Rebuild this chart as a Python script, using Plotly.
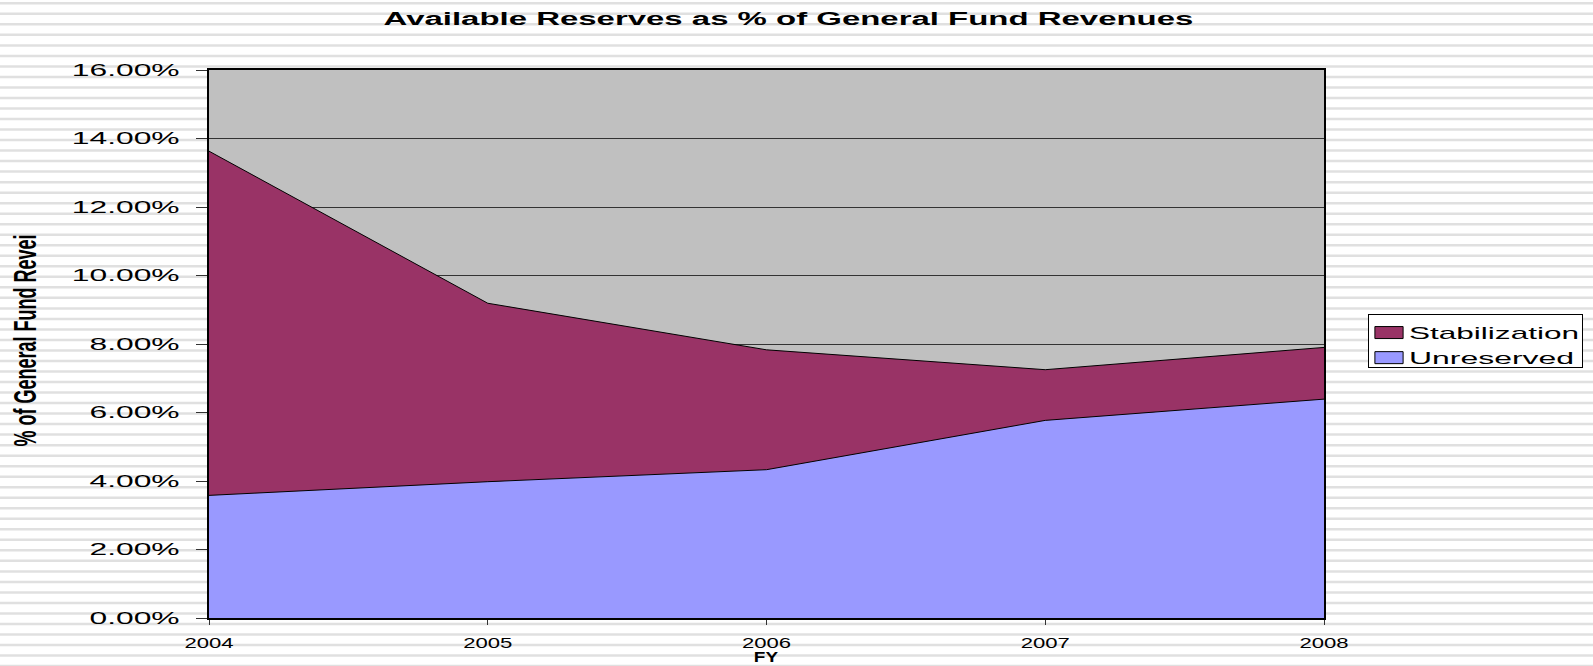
import plotly.graph_objects as go

# ---- data ----
years = [2004, 2005, 2006, 2007, 2008]
unreserved = [0.0358, 0.0398, 0.0433, 0.0577, 0.0639]
stabilization = [0.1005, 0.0521, 0.0350, 0.0148, 0.0151]
y_ticks = [0, 0.02, 0.04, 0.06, 0.08, 0.10, 0.12, 0.14, 0.16]
series_names = ["Stabilization", "Unreserved"]
series_colors = {"Stabilization": "#993366", "Unreserved": "#9999FF"}

W, H = 1593, 666
L, R, T, B = 209, 269, 70, 48
PW, PH = W - L - R, H - T - B
FONT = "Liberation Sans, Arial, sans-serif"


def px_to_paper_x(px):
    return (px - L) / PW


def px_to_paper_y(py):
    return (H - B - py) / PH


fig = go.Figure()
fig.add_trace(go.Scatter(
    x=years, y=unreserved, name="Unreserved", stackgroup="one",
    mode="lines", line=dict(color="#000000", width=1),
    fillcolor=series_colors["Unreserved"], showlegend=False,
))
fig.add_trace(go.Scatter(
    x=years, y=stabilization, name="Stabilization", stackgroup="one",
    mode="lines", line=dict(color="#000000", width=1),
    fillcolor=series_colors["Stabilization"], showlegend=False,
))
# legend swatches
for nm in series_names:
    fig.add_trace(go.Scatter(
        x=[None], y=[None], name=nm, mode="markers",
        marker=dict(symbol="square", size=12, color=series_colors[nm],
                    line=dict(color="#000000", width=1)),
        showlegend=True, hoverinfo="skip",
    ))

# striped background decoration
shapes = []
period = 10.52
start = 3.3
k = 0
while start + k * period < H + 5:
    py = start + k * period
    shapes.append(dict(
        type="line", xref="paper", yref="paper", layer="below",
        x0=px_to_paper_x(0), x1=px_to_paper_x(W),
        y0=px_to_paper_y(py), y1=px_to_paper_y(py),
        line=dict(color="#e0e0e0", width=2.5),
    ))
    k += 1
shapes.append(dict(
    type="rect", xref="paper", yref="paper", layer="below",
    x0=0, x1=1, y0=0, y1=1, fillcolor="#C0C0C0", line=dict(width=0),
))

fig.update_layout(
    width=W, height=H,
    margin=dict(l=L, r=R, t=T, b=B, pad=0, autoexpand=False),
    paper_bgcolor="#FFFFFF",
    plot_bgcolor="#C0C0C0",
    shapes=shapes,
    title=dict(
        text="Available Reserves as % of General Fund Revenues",
        x=788.5 / W, xanchor="center", y=1 - 18.5 / H, yanchor="middle",
        font=dict(family=FONT, size=18, color="#000000", weight="bold"),
    ),
    showlegend=True,
    legend=dict(
        x=px_to_paper_x(1368), y=px_to_paper_y(314), xanchor="left", yanchor="top",
        traceorder="normal",
        bgcolor="#FFFFFF", bordercolor="#000000", borderwidth=1,
        font=dict(family=FONT, size=17, color="#000000"),
        itemsizing="trace", tracegroupgap=0,
    ),
    xaxis=dict(
        range=[2004, 2008], tickmode="array", tickvals=years,
        ticktext=[str(y) for y in years],
        showgrid=False, zeroline=False,
        showline=True, linecolor="#000000", linewidth=1.5, mirror=True,
        ticks="outside", ticklen=5, tickcolor="#333333", tickwidth=1,
        ticklabelstandoff=6,
        tickfont=dict(family=FONT, size=14, color="#000000"),
    ),
    yaxis=dict(
        range=[0, 0.16], tickmode="array", tickvals=y_ticks, tickformat=".2%",
        showgrid=True, gridcolor="#333333", gridwidth=1, zeroline=False,
        showline=True, linecolor="#000000", linewidth=2, mirror=True,
        ticks="outside", ticklen=11, tickcolor="#333333", tickwidth=1,
        ticklabelstandoff=13,
        tickfont=dict(family=FONT, size=17, color="#000000"),
    ),
    annotations=[
        dict(
            text="% of General Fund Revei", textangle=-90,
            xref="paper", yref="paper",
            x=px_to_paper_x(25), y=px_to_paper_y(341),
            xanchor="center", yanchor="middle", showarrow=False,
            font=dict(family=FONT, size=32, color="#000000", weight="bold"),
        ),
        dict(
            text="FY", xref="paper", yref="paper",
            x=px_to_paper_x(766), y=px_to_paper_y(657),
            xanchor="center", yanchor="middle", showarrow=False,
            font=dict(family=FONT, size=14, color="#000000", weight="bold"),
        ),
    ],
)

# The reference is a horizontally stretched picture: stretch the glyphs of the
# texts the same way (SVG textLength), widen the legend swatches and box.
post = """
(function(){
  try {
    document.body.style.margin = '0';
    document.body.style.padding = '0';
    var gd = document.getElementById('{plot_id}');
    function st(el, f, abs){
      if (!el || el.getAttribute('data-st')) return;
      var w = el.getComputedTextLength();
      if (!(w > 0)) return;
      var len = abs ? abs : w * f;
      el.setAttribute('textLength', len.toFixed(1));
      el.setAttribute('lengthAdjust', 'spacingAndGlyphs');
      el.setAttribute('data-st', '1');
    }
    function all(sel, f){ gd.querySelectorAll(sel).forEach(function(t){ st(t, f); }); }
    all('.gtitle', 1.83);
    all('.ytick text', 1.87);
    all('.xtick text', 1.58);
    var lt = gd.querySelectorAll('.legendtext');
    var targets = {'Stabilization': 170, 'Unreserved': 165};
    lt.forEach(function(t){ st(t, 1.5, targets[t.textContent] || 0); });
    var ann = gd.querySelectorAll('.annotation-text');
    if (ann.length > 0) st(ann[0], 0, 212);
    if (ann.length > 1) st(ann[1], 1.35);
    gd.querySelectorAll('.legendpoints path.scatterpts').forEach(function(p){
      if (p.getAttribute('data-st')) return;
      var tr = p.getAttribute('transform') || '';
      p.setAttribute('transform', tr + ' scale(2.35,1)');
      p.style.vectorEffect = 'non-scaling-stroke';
      p.setAttribute('data-st', '1');
    });
    var lg = gd.querySelector('.legend');
    if (lg) {
      var bg = lg.querySelector('rect.bg');
      if (bg) { bg.setAttribute('width', 214); bg.setAttribute('height', 53); }
      var sb = lg.querySelector('.scrollbox');
      if (sb) sb.removeAttribute('clip-path');
    }
  } catch (e) {}
})();
"""

fig.write_html("out.html", post_script=post, config={"displayModeBar": False})
